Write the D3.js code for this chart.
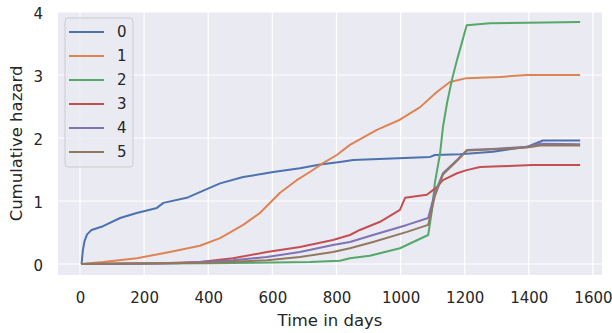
<!DOCTYPE html>
<html>
<head>
<meta charset="utf-8">
<script src="https://cdn.jsdelivr.net/npm/d3@7"></script>
<style>
  body { margin: 0; background: #fff; }
  svg { display: block; font-family: "DejaVu Sans", sans-serif; }
</style>
</head>
<body>
<svg id="chart" width="612" height="333"></svg>
<script>
// cumulative hazard per group (days, hazard)
const days0 = [5, 9, 14, 22, 36, 72, 125, 177, 240, 260, 333, 374, 437, 509, 603, 686, 749, 811, 852, 1092, 1107, 1185, 1288, 1394, 1444, 1560];
const haz0  = [0, 0.22, 0.36, 0.47, 0.54, 0.60, 0.73, 0.81, 0.89, 0.97, 1.05, 1.14, 1.28, 1.38, 1.46, 1.52, 1.58, 1.62, 1.65, 1.70, 1.73, 1.74, 1.78, 1.86, 1.96, 1.96];

const days1 = [5, 72, 177, 280, 374, 437, 509, 561, 624, 676, 717, 758, 801, 842, 926, 998, 1061, 1113, 1154, 1206, 1310, 1394, 1560];
const haz1  = [0, 0.03, 0.09, 0.19, 0.29, 0.41, 0.62, 0.81, 1.13, 1.33, 1.46, 1.60, 1.73, 1.89, 2.13, 2.29, 2.49, 2.73, 2.89, 2.95, 2.97, 3.0, 3.0];

const days2 = [5, 400, 717, 811, 842, 904, 998, 1086, 1098, 1107, 1123, 1132, 1145, 1160, 1176, 1191, 1206, 1279, 1394, 1560];
const haz2  = [0, 0.01, 0.03, 0.05, 0.09, 0.13, 0.25, 0.46, 0.86, 1.29, 1.75, 2.17, 2.56, 2.92, 3.24, 3.51, 3.79, 3.82, 3.83, 3.84];

const days3 = [5, 250, 374, 477, 583, 686, 789, 842, 873, 936, 998, 1014, 1082, 1113, 1132, 1176, 1206, 1248, 1310, 1413, 1560];
const haz3  = [0, 0.01, 0.03, 0.09, 0.19, 0.27, 0.38, 0.46, 0.54, 0.67, 0.86, 1.05, 1.10, 1.22, 1.33, 1.44, 1.49, 1.54, 1.55, 1.57, 1.57];

const days4 = [5, 300, 477, 583, 686, 789, 842, 914, 1020, 1086, 1107, 1132, 1176, 1207, 1300, 1394, 1435, 1560];
const haz4  = [0, 0.01, 0.06, 0.11, 0.19, 0.30, 0.35, 0.46, 0.62, 0.73, 1.13, 1.44, 1.65, 1.81, 1.83, 1.86, 1.91, 1.90];

const days5 = [5, 400, 583, 686, 789, 842, 914, 1020, 1086, 1107, 1132, 1176, 1207, 1300, 1394, 1435, 1560];
const haz5  = [0, 0.02, 0.06, 0.11, 0.19, 0.25, 0.35, 0.51, 0.62, 1.08, 1.42, 1.64, 1.80, 1.82, 1.85, 1.88, 1.88];

const groups = ["0", "1", "2", "3", "4", "5"];
const colors = ["#4c72b0", "#dd8452", "#55a868", "#c44e52", "#8172b3", "#937860"];
const xTicks = [0, 200, 400, 600, 800, 1000, 1200, 1400, 1600];
const yTicks = [0, 1, 2, 3, 4];

const series = [
  [days0, haz0], [days1, haz1], [days2, haz2],
  [days3, haz3], [days4, haz4], [days5, haz5]
].map(([d, h], i) => ({ name: groups[i], color: colors[i], pts: d.map((t, j) => [t, h[j]]) }));

const margin = { top: 12, right: 10, bottom: 58, left: 58 },
    width = 612 - margin.left - margin.right,
    height = 333 - margin.top - margin.bottom;

const x = d3.scaleLinear().domain([-68.6, 1628.2]).range([0, width]);
const y = d3.scaleLinear().domain([-0.175, 4.0]).range([height, 0]);

const svg = d3.select("#chart");
const g = svg.append("g")
    .attr("transform", "translate(" + margin.left + "," + margin.top + ")");

g.append("rect")
    .attr("width", width)
    .attr("height", height)
    .attr("fill", "#eaeaf2");

// grid
g.append("g").selectAll("line")
    .data(xTicks)
    .enter().append("line")
    .attr("x1", d => x(d)).attr("x2", d => x(d))
    .attr("y1", 0).attr("y2", height)
    .attr("stroke", "#fff").attr("stroke-width", 1.2);

g.append("g").selectAll("line")
    .data(yTicks)
    .enter().append("line")
    .attr("x1", 0).attr("x2", width)
    .attr("y1", d => y(d)).attr("y2", d => y(d))
    .attr("stroke", "#fff").attr("stroke-width", 1.2);

// axes (labels only)
const xAxis = g.append("g")
    .attr("transform", "translate(0," + height + ")")
    .call(d3.axisBottom(x).tickValues(xTicks).tickSize(0).tickPadding(17.5).tickFormat(d3.format("d")));
const yAxis = g.append("g")
    .call(d3.axisLeft(y).tickValues(yTicks).tickSize(0).tickPadding(15).tickFormat(d3.format("d")));

[xAxis, yAxis].forEach(a => {
  a.select(".domain").remove();
  a.selectAll("text").attr("fill", "#262626").style("font-size", "15px").style("font-family", "DejaVu Sans");
});
yAxis.selectAll("text").attr("dy", "0.45em");

// lines
const line = d3.line()
    .x(d => x(d[0]))
    .y(d => y(d[1]));

g.append("g").selectAll("path")
    .data(series)
    .enter().append("path")
    .attr("d", d => line(d.pts))
    .attr("fill", "none")
    .attr("stroke", d => d.color)
    .attr("stroke-width", 2)
    .attr("stroke-linejoin", "round");

// axis titles
svg.append("text")
    .attr("x", margin.left + width / 2)
    .attr("y", 326)
    .attr("text-anchor", "middle")
    .attr("fill", "#262626")
    .style("font-size", "16.5px")
    .text("Time in days");

svg.append("text")
    .attr("transform", "translate(22," + (margin.top + height / 2) + ") rotate(-90)")
    .attr("text-anchor", "middle")
    .attr("fill", "#262626")
    .style("font-size", "16.5px")
    .text("Cumulative hazard");

// legend
const legend = g.append("g").attr("transform", "translate(7,6)");
legend.append("rect")
    .attr("width", 68)
    .attr("height", 149)
    .attr("rx", 3)
    .attr("fill", "#eaeaf2")
    .attr("fill-opacity", 0.8)
    .attr("stroke", "#cccccc")
    .attr("stroke-width", 1);

const item = legend.selectAll(".item")
    .data(series)
    .enter().append("g")
    .attr("class", "item")
    .attr("transform", (d, i) => "translate(0," + (14 + i * 24) + ")");

item.append("line")
    .attr("x1", 4).attr("x2", 39)
    .attr("stroke", d => d.color)
    .attr("stroke-width", 2);

item.append("text")
    .attr("x", 52)
    .attr("dy", "0.36em")
    .attr("fill", "#262626")
    .style("font-size", "15px")
    .text(d => d.name);
</script>
</body>
</html>
